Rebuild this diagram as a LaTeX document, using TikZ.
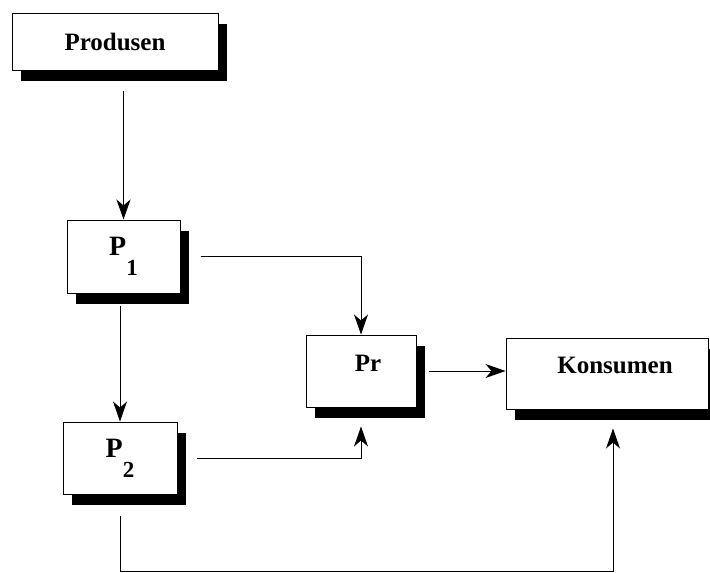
\documentclass[tikz,border=0pt]{standalone}
\usepackage{fontspec}
\setmainfont{Liberation Serif}
\usetikzlibrary{arrows.meta,shadows}
\begin{document}
\begin{tikzpicture}[x=1pt,y=-1pt,
 box/.style={draw, line width=1pt, fill=white, inner sep=0pt,
   drop shadow={shadow xshift=9pt, shadow yshift=-11pt, fill=black, opacity=1}},
 txt/.style={font=\bfseries\fontsize{25}{25}\selectfont},
 arr/.style={-{Stealth[length=20pt,width=14pt,inset=6pt]}, line width=1pt}]
\useasboundingbox (0,0) rectangle (710,573);
\node[box, minimum width=206pt, minimum height=57pt, txt] (prod) at (115,41.5) {Produsen};
\node[box, minimum width=113pt, minimum height=73pt] (p1) at (123.5,256.5)
  {\bfseries\fontsize{28}{28}\selectfont P\raisebox{-20pt}{\fontsize{23}{23}\selectfont 1}};
\node[box, minimum width=110pt, minimum height=72pt,
  label={[txt,xshift=7pt,yshift=8pt]center:Pr}] (pr) at (361,371) {};
\node[box, minimum width=202pt, minimum height=71pt,
  label={[txt,xshift=8pt,yshift=8pt]center:Konsumen}] (kons) at (607,373.5) {};
\node[box, minimum width=114pt, minimum height=72pt] (p2) at (120,458)
  {\bfseries\fontsize{28}{28}\selectfont P\raisebox{-20pt}{\fontsize{23}{23}\selectfont 2}};
\coordinate (c1) at (120,571);
\draw[arr, shorten <=20pt] (prod.south -| p1.north) -- (p1.north);
\draw[arr, shorten <=12pt] (p1.south -| p2.north) -- (p2.north);
\draw[arr, shorten <=20pt] (p1.east) -| (pr.north);
\draw[arr, shorten <=19pt, shorten >=19pt] (p2.east) -| (pr.south);
\draw[arr, shorten <=12pt] (pr.east) -- (pr.east -| kons.west);
\draw[arr, shorten <=21pt, shorten >=19pt] (p2.south) -- (c1) -| ([xshift=6pt]kons.south);
\end{tikzpicture}
\end{document}
